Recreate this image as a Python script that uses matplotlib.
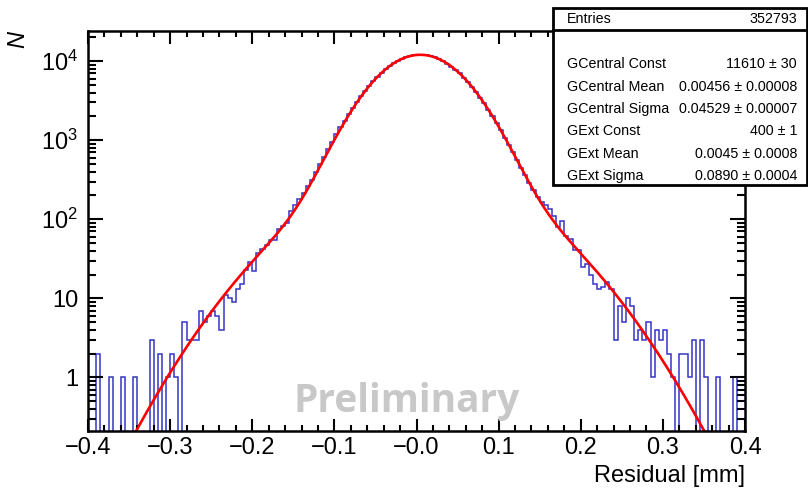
import numpy as np
import matplotlib
matplotlib.use("Agg")
import matplotlib.pyplot as plt
from matplotlib.patches import Rectangle
from matplotlib.ticker import FixedLocator, FixedFormatter, LogLocator, NullFormatter, MultipleLocator

plt.rcParams['font.family'] = ['Liberation Sans', 'DejaVu Sans']
plt.rcParams['mathtext.fontset'] = 'custom'
plt.rcParams['mathtext.rm'] = 'Liberation Sans'
plt.rcParams['mathtext.it'] = 'Liberation Sans:italic'

# histogram: 160 bins of 0.005 mm from -0.4 to 0.4
x_lo, x_hi, n_bins = -0.4, 0.4, 160
counts = [
    0, 0, 2, 0, 0, 1, 0, 0, 1, 0,
    0, 1, 0, 0, 0, 3, 0, 2, 0, 1,
    2, 1, 0, 5, 3, 3, 3, 7, 5, 6,
    7, 6, 4, 11, 10, 9, 13, 15, 23, 29,
    22, 37, 42, 47, 54, 54, 75, 83, 90, 128,
    152, 178, 214, 262, 318, 400, 498, 620, 770, 950,
    1180, 1450, 1770, 2150, 2580, 3060, 3600, 4200, 4870, 5580,
    6330, 7110, 7900, 8670, 9400, 10090, 10700, 11200, 11600, 11870,
    11990, 11980, 11830, 11540, 11120, 10590, 9970, 9280, 8530, 7750,
    6970, 6190, 5440, 4720, 4060, 3450, 2910, 2420, 2000, 1640,
    1335, 1080, 870, 700, 560, 450, 360, 290, 235, 189,
    164, 150, 134, 111, 80, 96, 62, 56, 41, 41,
    25, 27, 20, 15, 13, 14, 16, 13, 3, 8,
    5, 10, 8, 3, 4, 3, 5, 1, 4, 3,
    4, 2, 1, 0, 2, 2, 1, 3, 0, 3,
    1, 0, 0, 1, 0, 0, 0, 1, 0, 0,
]

# fit parameters (double gaussian)
fit_names = ["GCentral Const", "GCentral Mean", "GCentral Sigma",
             "GExt Const", "GExt Mean", "GExt Sigma"]
fit_values = ["11610 \u00b1 30", "0.00456 \u00b1 0.00008", "0.04529 \u00b1 0.00007",
              "400 \u00b1 1", "0.0045 \u00b1 0.0008", "0.0890 \u00b1 0.0004"]
g1 = (11610, 0.00456, 0.04529)
g2 = (400, 0.0045, 0.0890)
entries = 352793

x_ticks = [-0.4, -0.3, -0.2, -0.1, 0.0, 0.1, 0.2, 0.3, 0.4]
x_labels = ["\u22120.4", "\u22120.3", "\u22120.2", "\u22120.1", "\u22120.0",
            "0.1", "0.2", "0.3", "0.4"]
y_ticks = [1, 10, 100, 1000, 10000]
y_labels = ["1", "10", "$10^{2}$", "$10^{3}$", "$10^{4}$"]

W, H = 808, 490
fig = plt.figure(figsize=(W / 100, H / 100), dpi=100)
ax = fig.add_axes([88 / W, 1 - 431 / H, (745 - 88) / W, (431 - 31) / H])

edges = np.linspace(x_lo, x_hi, n_bins + 1)
ax.stairs(counts, edges, color='#3434c8', linewidth=1.1)

xf = np.linspace(x_lo, x_hi, 1200)
fit = (g1[0] * np.exp(-0.5 * ((xf - g1[1]) / g1[2]) ** 2)
       + g2[0] * np.exp(-0.5 * ((xf - g2[1]) / g2[2]) ** 2))
ax.plot(xf, fit, color='red', linewidth=1.9)

ax.set_yscale('log')
ax.set_xlim(x_lo, x_hi)
ax.set_ylim(0.21, 24000)

ax.xaxis.set_major_locator(FixedLocator(x_ticks))
ax.xaxis.set_major_formatter(FixedFormatter(x_labels))
ax.xaxis.set_minor_locator(MultipleLocator(0.02))
ax.yaxis.set_major_locator(FixedLocator(y_ticks))
ax.yaxis.set_major_formatter(FixedFormatter(y_labels))
ax.yaxis.set_minor_locator(LogLocator(base=10, subs=np.arange(2, 10), numticks=20))
ax.yaxis.set_minor_formatter(NullFormatter())

for s in ax.spines.values():
    s.set_linewidth(1.8)
ax.tick_params(which='both', direction='in', top=True, right=True, width=1.5, labelsize=17)
ax.tick_params(axis='x', which='major', length=9, pad=4)
ax.tick_params(axis='x', which='minor', length=4.5)
ax.tick_params(axis='y', which='major', length=11, pad=7)
ax.tick_params(axis='y', which='minor', length=5.5)

fig.text(745 / W, 1 - 476 / H, "Residual [mm]", ha='right', va='center', fontsize=17)
fig.text(18 / W, 1 - 40 / H, "N", ha='center', va='center', rotation=90,
         fontsize=17, style='italic')

ax.text(0.485, 0.075, "Preliminary", transform=ax.transAxes, ha='center', va='center',
        fontsize=28, fontweight='bold', family=['Open Sans', 'DejaVu Sans'],
        color='#c8c8c8')

# stats box
bx0, bx1, by0, by1 = 553, 807, 8, 185
fig.add_artist(Rectangle((bx0 / W, 1 - by1 / H), (bx1 - bx0) / W, (by1 - by0) / H,
                         transform=fig.transFigure, facecolor='white',
                         edgecolor='black', linewidth=2, zorder=5))
fig.add_artist(plt.Line2D([bx0 / W, bx1 / W], [1 - 30 / H, 1 - 30 / H],
                          transform=fig.transFigure, color='black', linewidth=2, zorder=6))
fig.text(567 / W, 1 - 19 / H, "Entries", ha='left', va='center', fontsize=10.3, zorder=7)
fig.text(797 / W, 1 - 19 / H, str(entries), ha='right', va='center', fontsize=10.3, zorder=7)
row_y = [64, 87, 109, 131, 154, 176]
for name, val, ry in zip(fit_names, fit_values, row_y):
    fig.text(567 / W, 1 - ry / H, name, ha='left', va='center', fontsize=10.3, zorder=7)
    fig.text(797 / W, 1 - ry / H, val, ha='right', va='center', fontsize=10.3, zorder=7)

fig.savefig("out.png", dpi=100)
